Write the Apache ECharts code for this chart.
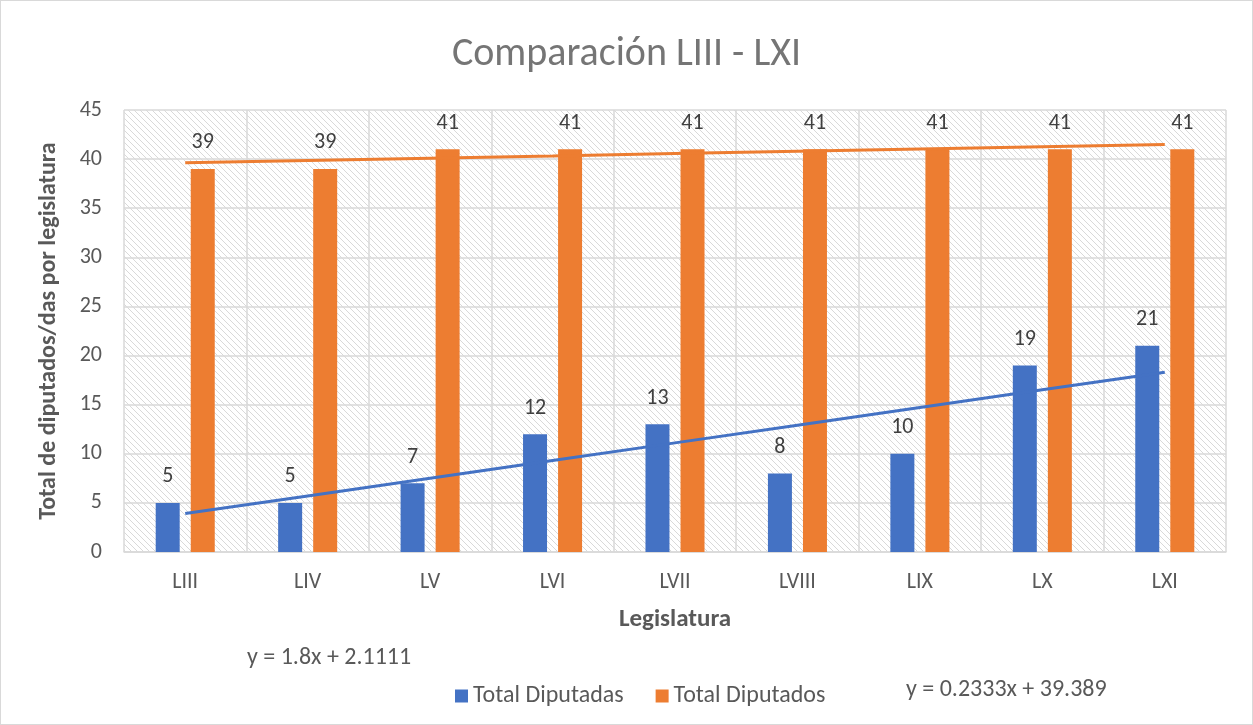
<!DOCTYPE html>
<html>
<head>
	<meta charset="utf-8">
	<title>Comparación LIII - LXI</title>
	<script src="https://cdn.jsdelivr.net/npm/echarts@6/dist/echarts.min.js"></script>
	<style>
		html, body { margin: 0; padding: 0; background: #fff; }
		#main { position: absolute; left: 0; top: 0; width: 1251px; height: 723px; border: 1px solid #d9d9d9; }
	</style>
</head>
<body>
	<div id="main"></div>
	<script type="text/javascript">
		// legislaturas
		var categorias = ['LIII', 'LIV', 'LV', 'LVI', 'LVII', 'LVIII', 'LIX', 'LX', 'LXI'];
		// valores por serie
		var diputadas = [5, 5, 7, 12, 13, 8, 10, 19, 21];
		var diputados = [39, 39, 41, 41, 41, 41, 41, 41, 41];
		var tendDiputadas = [3.91, 5.71, 7.51, 9.31, 11.11, 12.91, 14.71, 16.51, 18.31];
		var tendDiputados = [39.62, 39.86, 40.09, 40.32, 40.56, 40.79, 41.02, 41.26, 41.49];
		var ecuaciones = ['y = 1.8x + 2.1111', 'y = 0.2333x + 39.389'];

		var fuente = 'Carlito, Lato, sans-serif';

		//patron de rayas diagonales del fondo
		var pat = document.createElement('canvas');
		pat.width = 6;
		pat.height = 6;
		var ctx = pat.getContext('2d');
		ctx.fillStyle = '#ffffff';
		ctx.fillRect(0, 0, 6, 6);
		ctx.strokeStyle = '#d9d9d9';
		ctx.lineWidth = 1;
		ctx.beginPath();
		ctx.moveTo(-1, -1); ctx.lineTo(7, 7);
		ctx.moveTo(-1, 5); ctx.lineTo(1, 7);
		ctx.moveTo(5, -1); ctx.lineTo(7, 1);
		ctx.stroke();

		var chart = echarts.init(document.getElementById('main'));

		var etiqueta = {
			show: true,
			position: 'top',
			distance: 15,
			color: '#404040',
			fontSize: 22,
			fontFamily: fuente
		};

		var option = {
			backgroundColor: '#fff',
			animation: false,
			textStyle: { fontFamily: fuente },
			title: {
				text: 'Comparación LIII - LXI',
				left: 'center',
				top: 29,
				textStyle: { color: '#757575', fontSize: 40, fontWeight: 'normal', fontFamily: fuente }
			},
			legend: {
				data: ['Total Diputadas', 'Total Diputados'],
				left: 449,
				top: 678,
				icon: 'rect',
				itemWidth: 13,
				itemHeight: 13,
				itemGap: 32,
				textStyle: { color: '#595959', fontSize: 24, fontFamily: fuente }
			},
			grid: {
				left: 123,
				right: 26,
				top: 109,
				bottom: 172,
				show: true,
				borderWidth: 0,
				backgroundColor: { image: pat, repeat: 'repeat' }
			},
			xAxis: {
				type: 'category',
				data: categorias,
				name: 'Legislatura',
				nameLocation: 'middle',
				nameGap: 55,
				nameTextStyle: { color: '#595959', fontSize: 25, fontWeight: 'bold', fontFamily: fuente },
				axisLine: { lineStyle: { color: '#d9d9d9', width: 1.5 } },
				axisTick: { show: false },
				axisLabel: { color: '#595959', fontSize: 22, margin: 19, fontFamily: fuente },
				splitLine: { show: true, lineStyle: { color: '#d9d9d9', width: 1.5 } }
			},
			yAxis: {
				type: 'value',
				min: 0,
				max: 45,
				interval: 5,
				name: 'Total de diputados/das por legislatura',
				nameLocation: 'middle',
				nameGap: 63,
				nameTextStyle: { color: '#595959', fontSize: 24, fontWeight: 'bold', fontFamily: fuente },
				axisLine: { show: false },
				axisTick: { show: false },
				axisLabel: { color: '#595959', fontSize: 22, margin: 22, fontFamily: fuente },
				splitLine: { lineStyle: { color: '#d9d9d9', width: 1.5 } }
			},
			graphic: [{
				type: 'text',
				left: 246,
				top: 645,
				style: { text: ecuaciones[0], fill: '#595959', fontSize: 24, fontFamily: fuente }
			}, {
				type: 'text',
				left: 905,
				top: 677,
				style: { text: ecuaciones[1], fill: '#595959', fontSize: 24, fontFamily: fuente }
			}],
			series: [{
				name: 'Total Diputadas',
				type: 'bar',
				data: diputadas,
				barWidth: 24,
				barGap: '46%',
				itemStyle: { color: '#4472C4' },
				label: etiqueta
			}, {
				name: 'Total Diputados',
				type: 'bar',
				data: diputados,
				barWidth: 24,
				barGap: '46%',
				itemStyle: { color: '#ED7D31' },
				label: etiqueta
			}, {
				name: 'Tendencia Diputadas',
				type: 'line',
				data: tendDiputadas,
				symbol: 'none',
				silent: true,
				z: 5,
				lineStyle: { color: '#4472C4', width: 3 }
			}, {
				name: 'Tendencia Diputados',
				type: 'line',
				data: tendDiputados,
				symbol: 'none',
				silent: true,
				z: 5,
				lineStyle: { color: '#ED7D31', width: 3 }
			}]
		};
		chart.setOption(option);
	</script>
</body>
</html>
